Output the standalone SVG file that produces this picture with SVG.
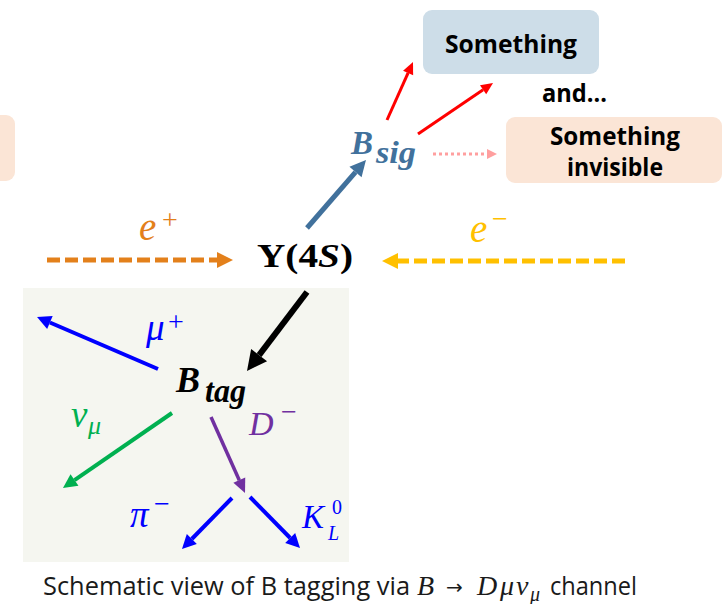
<svg xmlns="http://www.w3.org/2000/svg" width="722" height="604" viewBox="0 0 722 604">
<style>
.box { font-family: "Open Sans", "Liberation Sans", sans-serif; font-weight: 700; fill: #000; }
.math { font-family: "Liberation Serif", "DejaVu Serif", serif; font-style: italic; }
.mb { font-family: "Liberation Serif", "DejaVu Serif", serif; font-style: italic; font-weight: 700; }
.up { font-family: "Liberation Serif", "DejaVu Serif", serif; }
.cap { font-family: "Open Sans", "Liberation Sans", sans-serif; font-size: 25px; fill: #1a1a1a; }
.conn line { fill: none; }
</style>
<defs>
<marker id="h-steel" markerUnits="userSpaceOnUse" orient="auto" refX="0" refY="0" overflow="visible" markerWidth="1" markerHeight="1"><path d="M0,-8 L16,0 L0,8 z" fill="#41719c"/></marker>
<marker id="h-red" markerUnits="userSpaceOnUse" orient="auto" refX="0" refY="0" overflow="visible" markerWidth="1" markerHeight="1"><path d="M0,-5.5 L12,0 L0,5.5 z" fill="#ff0000"/></marker>
<marker id="h-pink" markerUnits="userSpaceOnUse" orient="auto" refX="0" refY="0" overflow="visible" markerWidth="1" markerHeight="1"><path d="M0,-5 L10,0 L0,5 z" fill="#ff9f9f"/></marker>
<marker id="h-orange" markerUnits="userSpaceOnUse" orient="auto" refX="0" refY="0" overflow="visible" markerWidth="1" markerHeight="1"><path d="M0,-8 L16,0 L0,8 z" fill="#e3801b"/></marker>
<marker id="h-gold" markerUnits="userSpaceOnUse" orient="auto" refX="0" refY="0" overflow="visible" markerWidth="1" markerHeight="1"><path d="M0,-8 L16,0 L0,8 z" fill="#ffc000"/></marker>
<marker id="h-black" markerUnits="userSpaceOnUse" orient="auto" refX="0" refY="0" overflow="visible" markerWidth="1" markerHeight="1"><path d="M0,-10 L20,0 L0,10 z" fill="#000"/></marker>
<marker id="h-blue" markerUnits="userSpaceOnUse" orient="auto" refX="0" refY="0" overflow="visible" markerWidth="1" markerHeight="1"><path d="M0,-7 L14,0 L0,7 z" fill="#0000ff"/></marker>
<marker id="h-green" markerUnits="userSpaceOnUse" orient="auto" refX="0" refY="0" overflow="visible" markerWidth="1" markerHeight="1"><path d="M0,-7 L14,0 L0,7 z" fill="#00b050"/></marker>
<marker id="h-purple" markerUnits="userSpaceOnUse" orient="auto" refX="0" refY="0" overflow="visible" markerWidth="1" markerHeight="1"><path d="M0,-6.5 L14,0 L0,6.5 z" fill="#7030a0"/></marker>
</defs>
<rect width="722" height="604" fill="#ffffff"/>

<g id="btag-panel"><rect x="23" y="288" width="326" height="274" fill="#f5f6f0"/></g>

<g id="box-left"><rect x="-200" y="115" width="215" height="66" rx="9" fill="#fbe5d6"/></g>

<g id="box-something">
<rect x="423" y="10" width="176" height="64" rx="9" fill="#cddde8"/>
<text class="box" x="511" y="53" font-size="25" text-anchor="middle" textLength="132" lengthAdjust="spacingAndGlyphs">Something</text>
</g>

<g id="and-text"><text class="box" x="574.5" y="102" font-size="25" text-anchor="middle" textLength="65" lengthAdjust="spacingAndGlyphs">and…</text></g>

<g id="box-invisible">
<rect x="506" y="117" width="216" height="66" rx="9" fill="#fbe5d6"/>
<text class="box" x="615" y="145" font-size="25" text-anchor="middle" textLength="130" lengthAdjust="spacingAndGlyphs">Something</text>
<text class="box" x="615" y="176" font-size="25" text-anchor="middle" textLength="96" lengthAdjust="spacingAndGlyphs">invisible</text>
</g>

<g id="bsig" fill="#41719c">
<text class="mb" x="351" y="154" font-size="33">B</text>
<text class="mb" x="376" y="163" font-size="32" textLength="40" lengthAdjust="spacingAndGlyphs">sig</text>
</g>

<g id="upsilon4s">
<text x="257" y="267" class="up" font-weight="700" font-size="33" textLength="96" lengthAdjust="spacingAndGlyphs">Υ(4<tspan font-style="italic">S</tspan>)</text>
</g>

<g id="eplus" fill="#e3801b">
<text class="math" x="139" y="240" font-size="39">e</text>
<text x="162" y="229" class="up" font-size="28">+</text>
</g>

<g id="eminus" fill="#ffc000">
<text class="math" x="470" y="242" font-size="39">e</text>
<text x="492" y="228" class="up" font-size="28">−</text>
</g>

<g id="btag" fill="#000">
<text class="mb" x="176" y="392" font-size="36">B</text>
<text class="mb" x="205" y="402" font-size="34" textLength="41" lengthAdjust="spacingAndGlyphs">tag</text>
</g>

<g id="muplus" fill="#0000ff">
<text class="math" x="146" y="340" font-size="37">μ</text>
<text x="168" y="331" class="up" font-size="28">+</text>
</g>

<g id="numu" fill="#00b050">
<text class="math" x="71" y="427" font-size="37">ν</text>
<text class="math" x="88" y="434" font-size="26">μ</text>
</g>

<g id="dminus" fill="#7030a0">
<text class="math" x="249" y="435" font-size="34">D</text>
<text x="281" y="421" class="up" font-size="28">−</text>
</g>

<g id="piminus" fill="#0000ff">
<text class="math" x="130" y="527" font-size="37">π</text>
<text x="154" y="513" class="up" font-size="28">−</text>
</g>

<g id="kl0" fill="#0000ff">
<text class="math" x="302" y="528" font-size="33">K</text>
<text class="math" x="328" y="540" font-size="20">L</text>
<text x="332" y="514" class="up" font-size="20">0</text>
</g>

<g id="connectors" class="conn">
<line x1="307" y1="228" x2="355.5" y2="172.1" stroke="#41719c" stroke-width="5" marker-end="url(#h-steel)"/>
<line x1="387" y1="120" x2="408.1" y2="72.9" stroke="#ff0000" stroke-width="3" marker-end="url(#h-red)"/>
<line x1="418" y1="134" x2="483.1" y2="89.7" stroke="#ff0000" stroke-width="3" marker-end="url(#h-red)"/>
<line x1="433" y1="154" x2="487" y2="154" stroke="#ff9f9f" stroke-width="3" stroke-dasharray="3 3" marker-end="url(#h-pink)"/>
<line x1="47" y1="260" x2="217" y2="260" stroke="#e3801b" stroke-width="5" stroke-dasharray="13 5" marker-end="url(#h-orange)"/>
<line x1="625" y1="261" x2="398" y2="261" stroke="#ffc000" stroke-width="5" stroke-dasharray="13 5" marker-end="url(#h-gold)"/>
<line x1="307" y1="292" x2="259.1" y2="355.1" stroke="#000000" stroke-width="6" marker-end="url(#h-black)"/>
<line x1="158" y1="369" x2="49.9" y2="322.5" stroke="#0000ff" stroke-width="4" marker-end="url(#h-blue)"/>
<line x1="172" y1="413" x2="74.5" y2="480.1" stroke="#00b050" stroke-width="4" marker-end="url(#h-green)"/>
<line x1="211" y1="417" x2="239.3" y2="480.2" stroke="#7030a0" stroke-width="3.5" marker-end="url(#h-purple)"/>
<line x1="232" y1="498" x2="191.8" y2="539" stroke="#0000ff" stroke-width="4" marker-end="url(#h-blue)"/>
<line x1="250" y1="497" x2="290.2" y2="538" stroke="#0000ff" stroke-width="4" marker-end="url(#h-blue)"/>
</g>

<g id="caption">
<text class="cap" x="43" y="595" textLength="367" lengthAdjust="spacingAndGlyphs">Schematic view of B tagging via</text>
<text class="math" x="417" y="595" font-size="28" fill="#1a1a1a">B</text>
<text x="446" y="594" font-family="'DejaVu Sans', sans-serif" font-size="20" fill="#1a1a1a">→</text>
<text class="math" x="477" y="595" font-size="28" fill="#1a1a1a">D</text>
<text class="math" x="500" y="595" font-size="28" fill="#1a1a1a">μ</text>
<text class="math" x="516" y="595" font-size="28" fill="#1a1a1a">ν</text>
<text class="math" x="530" y="601" font-size="20" fill="#1a1a1a">μ</text>
<text class="cap" x="550" y="595" textLength="87" lengthAdjust="spacingAndGlyphs">channel</text>
</g>
</svg>
